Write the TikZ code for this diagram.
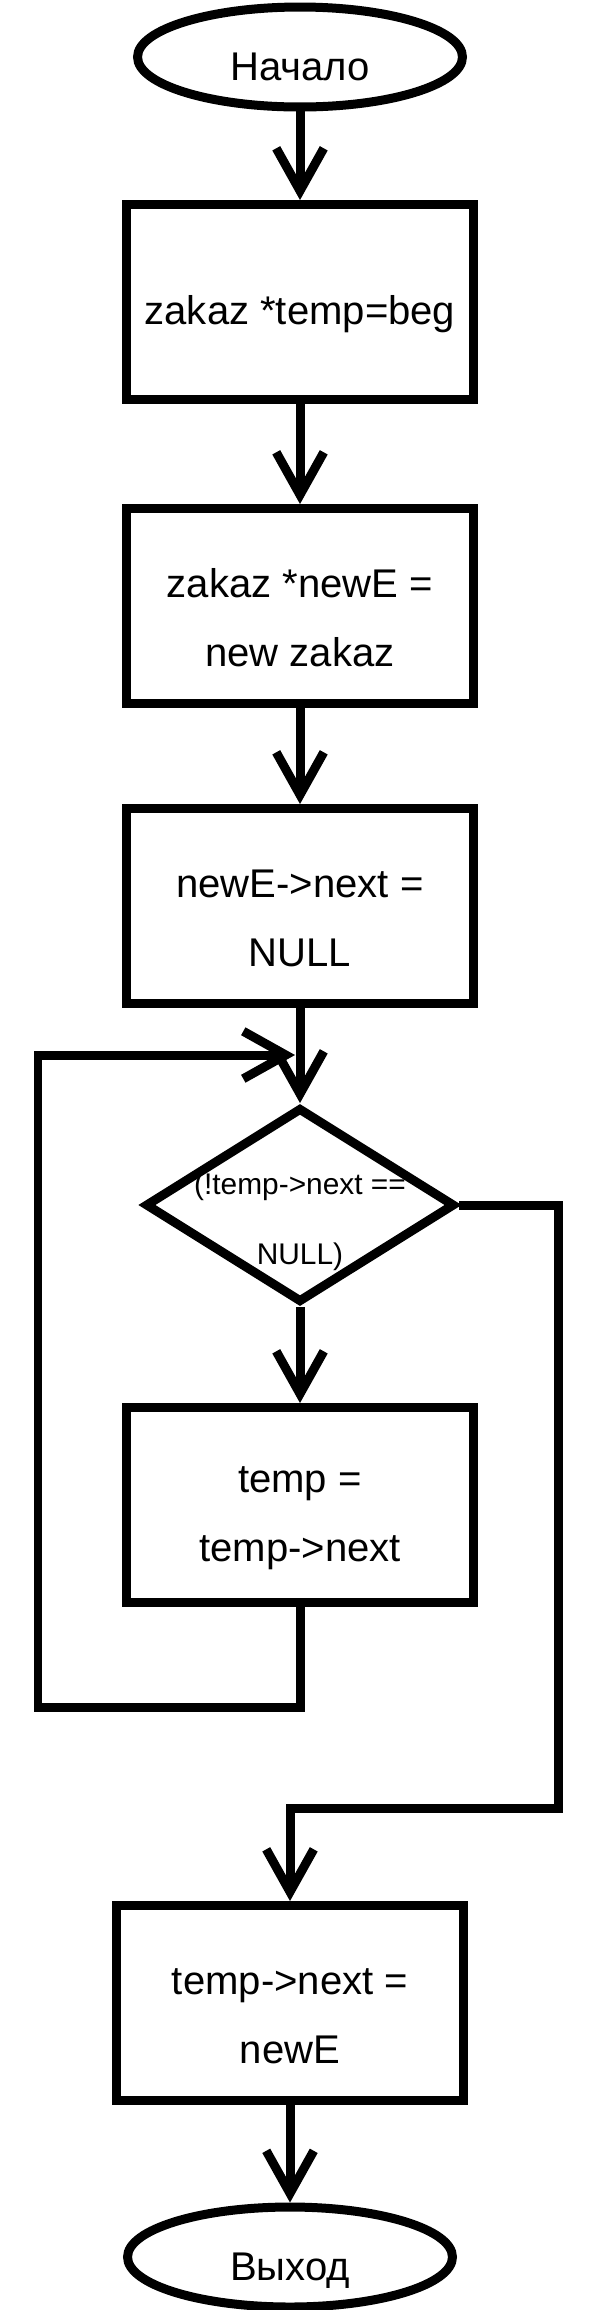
\documentclass[tikz,border=0pt]{standalone}
\usepackage{fontspec}
\setmainfont{Liberation Sans}
\usetikzlibrary{shapes.geometric,arrows.meta}
\newcommand{\padtop}{\rule{0pt}{30pt}}

\begin{document}
\begin{tikzpicture}[x=0.02cm,y=-0.02cm,line width=0.18cm,
  flow/.style={-{Straight Barb[length=0.85cm,width=0.95cm,sharp]}},
  stepbox/.style={draw,minimum width=6.96cm,minimum height=3.9cm,align=center,font=\fontsize{22.8}{39}\selectfont},
  term/.style={draw,ellipse,minimum width=6.5cm,minimum height=2cm,inner sep=0pt,text height=32pt,text depth=5pt,font=\fontsize{22.8}{27}\selectfont},
  decide/.style={draw,diamond,minimum width=6.2cm,minimum height=3.9cm,inner sep=0pt},
  condtext/.style={align=center,font=\fontsize{17}{40}\selectfont}]
\useasboundingbox (0,0) rectangle (605,2310);

\node[term] (start) at (300,57) {Начало};
\node[stepbox] (temp) at (300,302) {\padtop zakaz *temp=beg};
\node[stepbox] (newe) at (300,606) {\padtop zakaz *newE =\\new zakaz};
\node[stepbox] (nullnext) at (300,906) {\padtop newE->next =\\NULL};

\node[condtext] (condlbl) at (300,1222) {(!temp->next ==\\NULL)};
\node[decide] (cond) at (300,1205) {};
\node[stepbox] (shift) at (300,1505) {\padtop temp =\\temp->next};
\coordinate (loopin) at (295,1055);

\node[stepbox] (link) at (290,2003) {\padtop temp->next =\\newE};
\node[term] (exit) at (290,2257) {Выход};

\draw[flow] (start) -- (temp);
\draw[flow] (temp) -- (newe);
\draw[flow] (newe) -- (nullnext);
\draw[flow] (nullnext.south) -- (cond.north);
\draw[flow] (cond.south) -- (shift.north);
\draw[flow] (shift.south) |- (38,1707) |- (loopin);
\draw[flow] (cond.east) -| (558,1808) -| (link.north);
\draw[flow] (link) -- (exit);
\end{tikzpicture}
\end{document}
